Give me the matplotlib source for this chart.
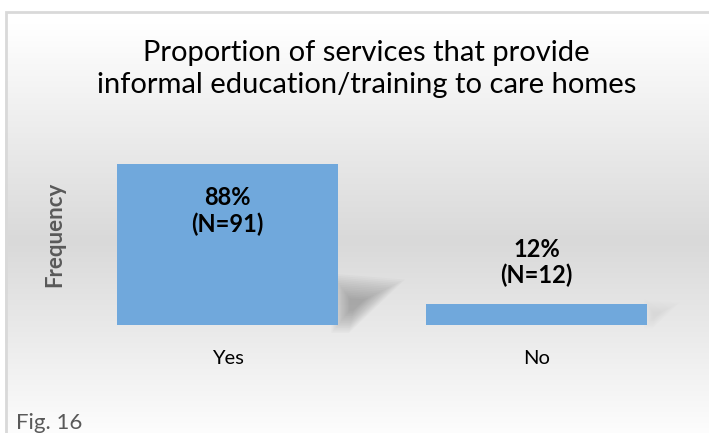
import numpy as np
import matplotlib
matplotlib.use("Agg")
import matplotlib.pyplot as plt
from matplotlib.patches import Polygon

plt.rcParams["font.family"] = ["Lato", "DejaVu Sans"]

# data
categories = ["Yes", "No"]
counts = [91, 12]
percents = [88, 12]
title = "Proportion of services that provide\ninformal education/training to care homes"

W, H = 709, 433
fig = plt.figure(figsize=(W / 100, H / 100), dpi=100)

# background panel in pixel coords (gradient + border)
bg = fig.add_axes([0, 0, 1, 1])
bg.set_xlim(0, W)
bg.set_ylim(H, 0)
bg.axis("off")
rows = np.arange(H)
shade = np.interp(rows, [0, 12, 235, 433], [255, 255, 217, 253]) / 255.0
grad = np.repeat(shade[:, None], 2, axis=1)
bg.imshow(np.dstack([grad, grad, grad]), extent=[5, W, H, 12], aspect="auto",
          interpolation="bilinear", zorder=0)
bg.plot([5.5, 5.5, W], [H, 11.5, 11.5], color="#d9d9d9", lw=2, zorder=1,
        solid_joinstyle="miter")

bg.text(W / 2 + 12, 69, title, ha="center", va="center", fontsize=21,
        linespacing=1.25, color="black")
bg.text(55, 234, "Frequency", rotation=90, ha="center", va="center",
        fontsize=16, fontweight="bold", color="#595959")
bg.text(16, 429, "Fig. 16", ha="left", va="baseline", fontsize=16, color="#595959")

# main plot
ax = fig.add_axes([73 / W, 1 - 325 / H, 618 / W, 177 / H])
ax.set_facecolor("none")
xs = np.arange(len(categories))
bw = 0.715
ax.bar(xs, counts, width=bw, color="#70A8DC", zorder=3)
ax.set_xlim(-0.5, 1.5)
ax.set_ylim(0, 100)

# soft perspective shadow to the right of each bar
for x, h in zip(xs, counts):
    bx = x + bw / 2
    sh = min(h, 24)
    k = sh / 24
    quad = np.array([[bx, 0], [bx, sh], [bx + 0.17 * k, sh * 0.9],
                     [bx + 0.04 * k, 0]])
    c = quad.mean(axis=0)
    for s in np.linspace(1.4, 0.3, 14):
        ax.add_patch(Polygon(c + (quad - c) * s, closed=True, color="black",
                             alpha=0.02 * k * k, lw=0, zorder=2, clip_on=False))

for x, h, p, n in zip(xs, counts, percents, counts):
    label = f"{p}%\n(N={n})"
    dy = -34 if h > 50 else 29.5
    ax.annotate(label, (x, h), xytext=(0, dy), textcoords="offset points",
                ha="center", va="center", fontsize=17, fontweight="bold",
                linespacing=1.15, zorder=4)

ax.set_xticks(xs)
ax.set_xticklabels(categories, fontsize=14.5)
ax.set_yticks([])
ax.tick_params(axis="x", length=0, pad=18)
for s in ax.spines.values():
    s.set_visible(False)

fig.savefig("out.png", dpi=100)
